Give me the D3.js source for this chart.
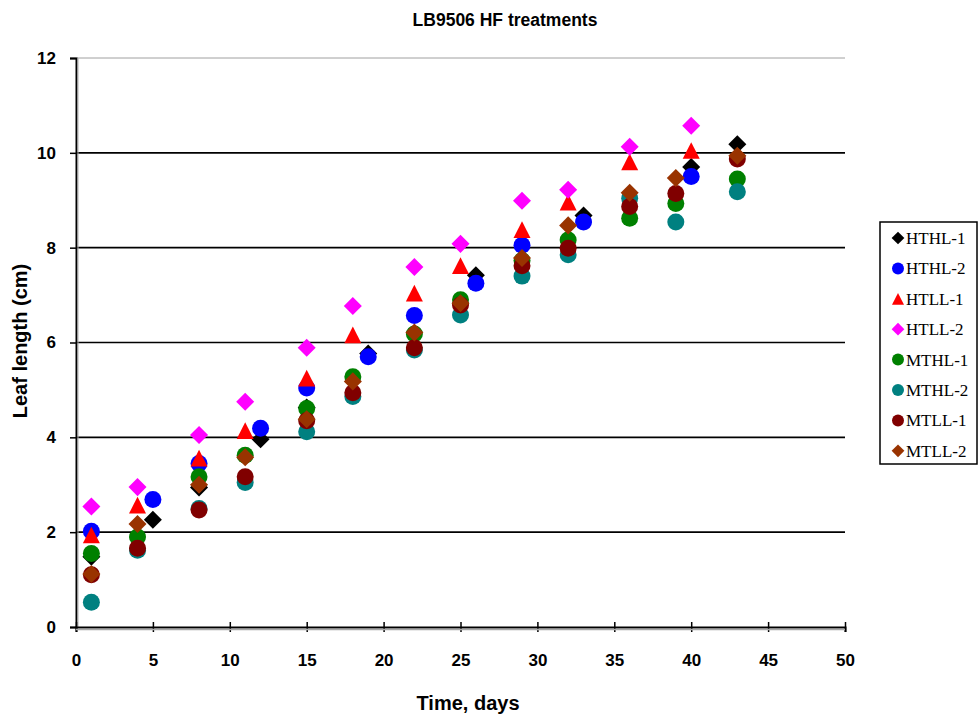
<!DOCTYPE html>
<html><head><meta charset="utf-8">
<script src="https://cdn.jsdelivr.net/npm/d3@7"></script>
<style>body{margin:0;background:#fff}</style>
</head><body>
<svg id="c" width="980" height="715"></svg>
<script>
// ---- data ----
const chartTitle = "LB9506 HF treatments";
const xTitle = "Time, days";
const yTitle = "Leaf length (cm)";
const xTicks = [0,5,10,15,20,25,30,35,40,45,50];
const yTicks = [0,2,4,6,8,10,12];

const seriesNames  = ["HTHL-1","HTHL-2","HTLL-1","HTLL-2","MTHL-1","MTHL-2","MTLL-1","MTLL-2"];
const seriesColors = ["#000000","#0000FF","#FF0000","#FF00FF","#008000","#008080","#800000","#993300"];
const seriesShapes = ["diamond","circle","triangle","diamond","circle","circle","circle","diamond"];

const hthl1Days = [1,5,8,12,15,19,26,33,40,43];
const hthl1Vals = [1.48,2.26,2.94,3.96,4.63,5.77,7.42,8.68,9.70,10.18];
const hthl2Days = [1,5,8,12,15,19,22,26,29,33,40];
const hthl2Vals = [2.02,2.69,3.45,4.19,5.04,5.70,6.57,7.25,8.05,8.54,9.50];
const htll1Days = [1,4,8,11,15,18,22,25,29,32,36,40];
const htll1Vals = [1.94,2.57,3.56,4.14,5.25,6.16,7.04,7.62,8.38,8.96,9.81,10.05];
const htll2Days = [1,4,8,11,15,18,22,25,29,32,36,40];
const htll2Vals = [2.54,2.95,4.05,4.75,5.89,6.77,7.59,8.08,8.99,9.22,10.13,10.57];
const mthl1Days = [1,4,8,11,15,18,22,25,29,32,36,39,43];
const mthl1Vals = [1.55,1.90,3.17,3.62,4.61,5.28,6.18,6.90,7.73,8.16,8.62,8.93,9.45];
const mthl2Days = [1,4,8,11,15,18,22,25,29,32,36,39,43];
const mthl2Vals = [0.52,1.62,2.50,3.05,4.12,4.86,5.84,6.58,7.40,7.85,9.04,8.54,9.18];
const mtll1Days = [1,4,8,11,15,18,22,25,29,32,36,39,43];
const mtll1Vals = [1.10,1.66,2.47,3.17,4.35,4.94,5.89,6.79,7.62,7.99,8.87,9.14,9.87];
const mtll2Days = [1,4,8,11,15,18,22,25,29,32,36,39,43];
const mtll2Vals = [1.12,2.17,3.00,3.58,4.38,5.18,6.21,6.83,7.78,8.47,9.16,9.47,9.94];

const allDays = [hthl1Days,hthl2Days,htll1Days,htll2Days,mthl1Days,mthl2Days,mtll1Days,mtll2Days];
const allVals = [hthl1Vals,hthl2Vals,htll1Vals,htll2Vals,mthl1Vals,mthl2Vals,mtll1Vals,mtll2Vals];

const series = seriesNames.map((n,i)=>({
  name:n, color:seriesColors[i], shape:seriesShapes[i],
  points: allDays[i].map((d,j)=>({x:d,y:allVals[i][j]}))
}));

// ---- layout ----
const svg = d3.select("#c");
const L = 76, T = 58, R = 845, B = 627;
const x = d3.scaleLinear().domain([0,50]).range([L,R]);
const y = d3.scaleLinear().domain([0,12]).range([B,T]);
const sansB = "'Liberation Sans', Arial, sans-serif";

function markerPath(shape, s){
  if(shape==="circle"){
    return `M${-s},0A${s},${s} 0 1,0 ${s},0A${s},${s} 0 1,0 ${-s},0Z`;
  } else if(shape==="diamond"){
    const d = s*1.06;
    return `M0,${-d}L${d},0L0,${d}L${-d},0Z`;
  } else {
    const w = s, h = s*0.98;
    return `M0,${-h}L${w},${h}L${-w},${h}Z`;
  }
}

// grid lines
svg.append("g").selectAll("line").data(yTicks.filter(v=>v>0)).join("line")
  .attr("x1",L).attr("x2",R).attr("y1",d=>y(d)).attr("y2",d=>y(d))
  .attr("stroke",d=>d===12?"#a0a0a0":"#000").attr("stroke-width",d=>d===12?1:1.6);

// y axis
const yAxis = svg.append("g").attr("transform",`translate(${L},0)`)
  .call(d3.axisLeft(y).tickValues(yTicks).tickSize(6).tickPadding(14).tickFormat(d3.format("d")));
yAxis.select(".domain").attr("stroke","#000").attr("stroke-width",2);
yAxis.selectAll(".tick line").attr("stroke","#000").attr("stroke-width",1.5);
yAxis.selectAll("text").attr("font-family",sansB).attr("font-weight","bold").attr("font-size",17).attr("fill","#000");
svg.append("line").attr("x1",L+2).attr("x2",L+2).attr("y1",T).attr("y2",B).attr("stroke","#b0b0b0").attr("stroke-width",1);

// x axis
const xAxis = svg.append("g").attr("transform",`translate(0,${B})`)
  .call(d3.axisBottom(x).tickValues(xTicks).tickSize(5).tickPadding(22).tickFormat(d3.format("d")));
xAxis.select(".domain").attr("stroke","#000").attr("stroke-width",2);
xAxis.selectAll(".tick line").attr("stroke","#000").attr("stroke-width",1.5).attr("y1",-5);
xAxis.selectAll("text").attr("font-family",sansB).attr("font-weight","bold").attr("font-size",17).attr("fill","#000");
svg.append("line").attr("x1",L).attr("x2",R).attr("y1",B+2.5).attr("y2",B+2.5).attr("stroke","#a8a8a8").attr("stroke-width",1.5);

// markers
series.forEach(s=>{
  svg.append("g").selectAll("path").data(s.points).join("path")
    .attr("d",markerPath(s.shape,8.5))
    .attr("transform",d=>`translate(${x(d.x)},${y(d.y)})`)
    .attr("fill",s.color);
});

// titles
svg.append("text").attr("x",505).attr("y",26).attr("text-anchor","middle")
  .attr("font-family",sansB).attr("font-weight","bold").attr("font-size",17.5).text(chartTitle);
svg.append("text").attr("x",468).attr("y",710).attr("text-anchor","middle")
  .attr("font-family",sansB).attr("font-weight","bold").attr("font-size",20).text(xTitle);
svg.append("text").attr("transform",`translate(27,341) rotate(-90)`).attr("text-anchor","middle")
  .attr("font-family",sansB).attr("font-weight","bold").attr("font-size",20).text(yTitle);

// legend
const lg = svg.append("g");
lg.append("rect").attr("x",880).attr("y",222).attr("width",97).attr("height",242)
  .attr("fill","#fff").attr("stroke","#000").attr("stroke-width",1.5);
series.forEach((s,i)=>{
  const cy = 238 + i*30.4;
  lg.append("path").attr("d",markerPath(s.shape,6)).attr("transform",`translate(898,${cy})`).attr("fill",s.color);
  lg.append("text").attr("x",906).attr("y",cy+6).attr("font-family","'Liberation Serif', 'Times New Roman', serif")
    .attr("font-size",17).attr("fill","#000").text(s.name);
});
</script>
</body></html>
